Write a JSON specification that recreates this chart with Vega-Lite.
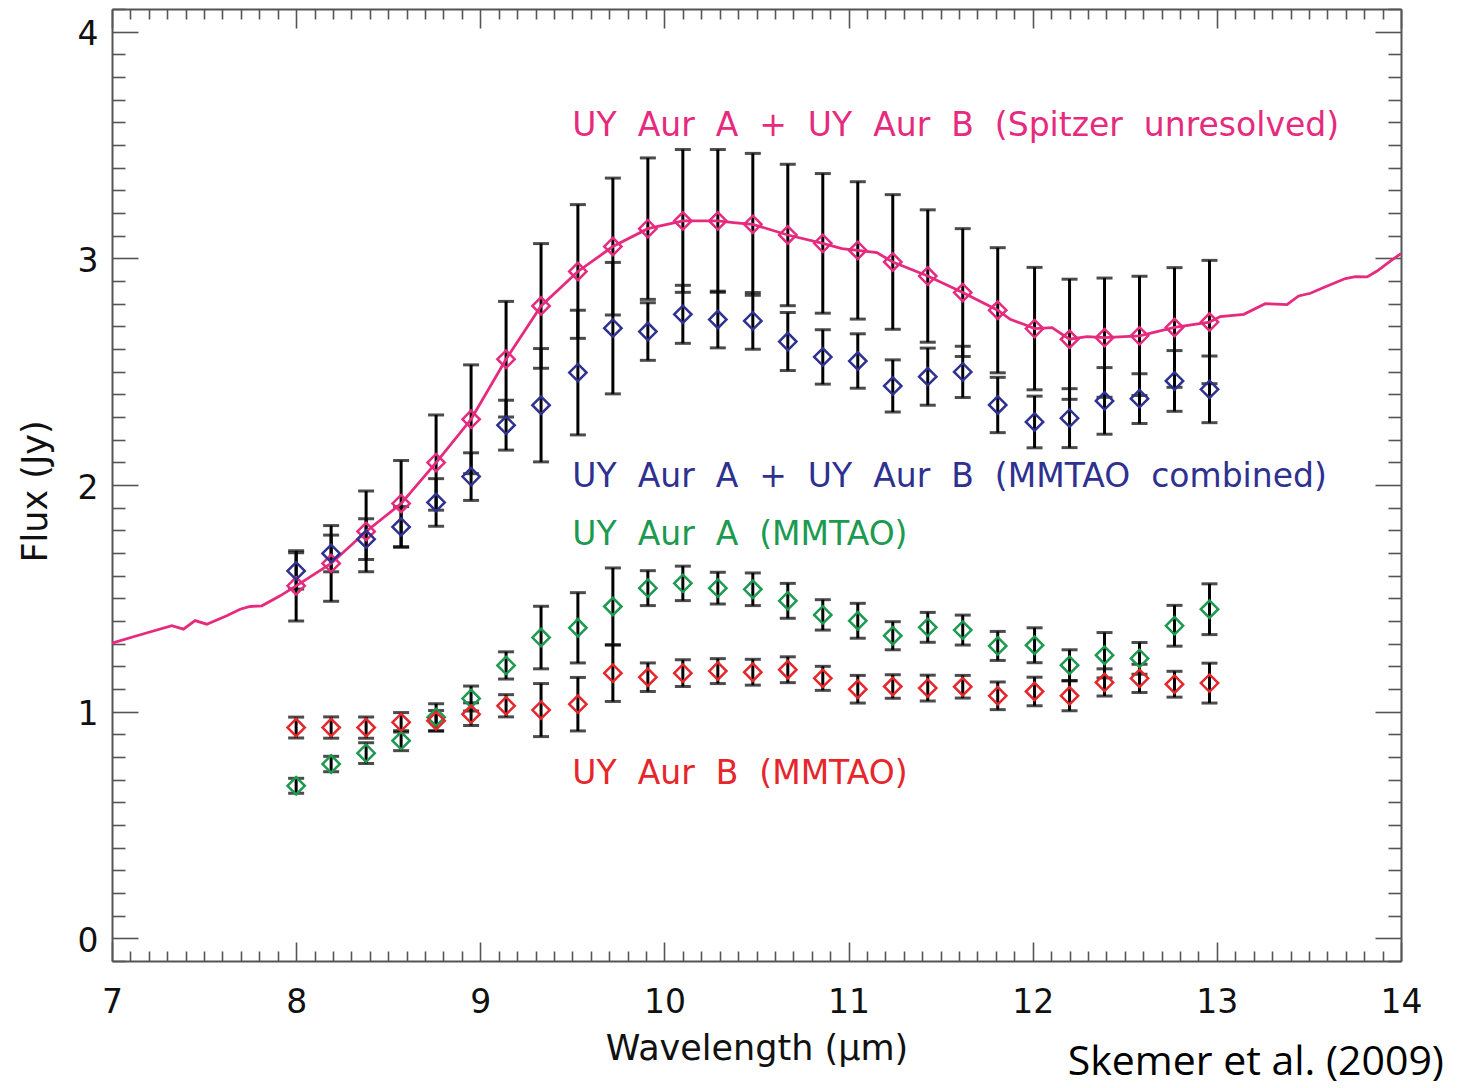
{
  "$schema": "https://vega.github.io/schema/vega-lite/v6.json",
  "width": 1289,
  "height": 952,
  "autosize": {"type": "none"},
  "padding": {"left": 112, "top": 9, "right": 56, "bottom": 127},
  "background": "white",
  "config": {
    "view": {"stroke": null},
    "axis": {
      "grid": false,
      "domainColor": "#555555",
      "domainWidth": 2,
      "tickColor": "#555555",
      "tickWidth": 1.6,
      "labelFont": "DejaVu Sans",
      "labelFontSize": 33,
      "labelColor": "#111111",
      "labelFlush": false,
      "labelOverlap": false,
      "labelBound": false,
      "titleFont": "DejaVu Sans",
      "titleFontSize": 35,
      "titleFontWeight": "normal",
      "titleColor": "#111111"
    }
  },
  "datasets": {
    "obs": [
      {"wl": 8.00, "series": "spitzer", "flux": 1.555, "lo": 1.400, "hi": 1.710},
      {"wl": 8.19, "series": "spitzer", "flux": 1.654, "lo": 1.487, "hi": 1.821},
      {"wl": 8.38, "series": "spitzer", "flux": 1.795, "lo": 1.617, "hi": 1.973},
      {"wl": 8.57, "series": "spitzer", "flux": 1.918, "lo": 1.728, "hi": 2.108},
      {"wl": 8.76, "series": "spitzer", "flux": 2.099, "lo": 1.889, "hi": 2.309},
      {"wl": 8.95, "series": "spitzer", "flux": 2.290, "lo": 2.050, "hi": 2.530},
      {"wl": 9.14, "series": "spitzer", "flux": 2.555, "lo": 2.300, "hi": 2.810},
      {"wl": 9.33, "series": "spitzer", "flux": 2.790, "lo": 2.515, "hi": 3.065},
      {"wl": 9.53, "series": "spitzer", "flux": 2.942, "lo": 2.647, "hi": 3.237},
      {"wl": 9.72, "series": "spitzer", "flux": 3.052, "lo": 2.750, "hi": 3.354},
      {"wl": 9.91, "series": "spitzer", "flux": 3.131, "lo": 2.819, "hi": 3.443},
      {"wl": 10.10, "series": "spitzer", "flux": 3.165, "lo": 2.850, "hi": 3.480},
      {"wl": 10.29, "series": "spitzer", "flux": 3.165, "lo": 2.850, "hi": 3.480},
      {"wl": 10.48, "series": "spitzer", "flux": 3.150, "lo": 2.837, "hi": 3.463},
      {"wl": 10.67, "series": "spitzer", "flux": 3.103, "lo": 2.791, "hi": 3.415},
      {"wl": 10.86, "series": "spitzer", "flux": 3.066, "lo": 2.758, "hi": 3.374},
      {"wl": 11.05, "series": "spitzer", "flux": 3.035, "lo": 2.732, "hi": 3.338},
      {"wl": 11.24, "series": "spitzer", "flux": 2.984, "lo": 2.687, "hi": 3.281},
      {"wl": 11.43, "series": "spitzer", "flux": 2.922, "lo": 2.630, "hi": 3.214},
      {"wl": 11.62, "series": "spitzer", "flux": 2.849, "lo": 2.567, "hi": 3.131},
      {"wl": 11.81, "series": "spitzer", "flux": 2.771, "lo": 2.495, "hi": 3.047},
      {"wl": 12.01, "series": "spitzer", "flux": 2.690, "lo": 2.420, "hi": 2.960},
      {"wl": 12.20, "series": "spitzer", "flux": 2.643, "lo": 2.378, "hi": 2.908},
      {"wl": 12.39, "series": "spitzer", "flux": 2.650, "lo": 2.387, "hi": 2.913},
      {"wl": 12.58, "series": "spitzer", "flux": 2.658, "lo": 2.395, "hi": 2.921},
      {"wl": 12.77, "series": "spitzer", "flux": 2.695, "lo": 2.431, "hi": 2.959},
      {"wl": 12.96, "series": "spitzer", "flux": 2.719, "lo": 2.447, "hi": 2.991},

      {"wl": 8.00, "series": "combined", "flux": 1.621, "lo": 1.541, "hi": 1.701},
      {"wl": 8.19, "series": "combined", "flux": 1.698, "lo": 1.617, "hi": 1.779},
      {"wl": 8.38, "series": "combined", "flux": 1.761, "lo": 1.671, "hi": 1.851},
      {"wl": 8.57, "series": "combined", "flux": 1.815, "lo": 1.725, "hi": 1.905},
      {"wl": 8.76, "series": "combined", "flux": 1.923, "lo": 1.818, "hi": 2.028},
      {"wl": 8.95, "series": "combined", "flux": 2.037, "lo": 1.932, "hi": 2.142},
      {"wl": 9.14, "series": "combined", "flux": 2.264, "lo": 2.154, "hi": 2.374},
      {"wl": 9.33, "series": "combined", "flux": 2.352, "lo": 2.102, "hi": 2.602},
      {"wl": 9.53, "series": "combined", "flux": 2.496, "lo": 2.221, "hi": 2.771},
      {"wl": 9.72, "series": "combined", "flux": 2.692, "lo": 2.402, "hi": 2.982},
      {"wl": 9.91, "series": "combined", "flux": 2.677, "lo": 2.550, "hi": 2.804},
      {"wl": 10.10, "series": "combined", "flux": 2.753, "lo": 2.625, "hi": 2.881},
      {"wl": 10.29, "series": "combined", "flux": 2.730, "lo": 2.605, "hi": 2.855},
      {"wl": 10.48, "series": "combined", "flux": 2.724, "lo": 2.599, "hi": 2.849},
      {"wl": 10.67, "series": "combined", "flux": 2.633, "lo": 2.505, "hi": 2.761},
      {"wl": 10.86, "series": "combined", "flux": 2.565, "lo": 2.445, "hi": 2.685},
      {"wl": 11.05, "series": "combined", "flux": 2.547, "lo": 2.427, "hi": 2.667},
      {"wl": 11.24, "series": "combined", "flux": 2.437, "lo": 2.322, "hi": 2.552},
      {"wl": 11.43, "series": "combined", "flux": 2.478, "lo": 2.352, "hi": 2.604},
      {"wl": 11.62, "series": "combined", "flux": 2.499, "lo": 2.386, "hi": 2.612},
      {"wl": 11.81, "series": "combined", "flux": 2.353, "lo": 2.231, "hi": 2.475},
      {"wl": 12.01, "series": "combined", "flux": 2.278, "lo": 2.164, "hi": 2.392},
      {"wl": 12.20, "series": "combined", "flux": 2.295, "lo": 2.165, "hi": 2.425},
      {"wl": 12.39, "series": "combined", "flux": 2.371, "lo": 2.224, "hi": 2.518},
      {"wl": 12.58, "series": "combined", "flux": 2.381, "lo": 2.271, "hi": 2.491},
      {"wl": 12.77, "series": "combined", "flux": 2.459, "lo": 2.325, "hi": 2.593},
      {"wl": 12.96, "series": "combined", "flux": 2.422, "lo": 2.275, "hi": 2.569},

      {"wl": 8.00, "series": "a", "flux": 0.673, "lo": 0.640, "hi": 0.706},
      {"wl": 8.19, "series": "a", "flux": 0.769, "lo": 0.735, "hi": 0.803},
      {"wl": 8.38, "series": "a", "flux": 0.817, "lo": 0.771, "hi": 0.863},
      {"wl": 8.57, "series": "a", "flux": 0.872, "lo": 0.828, "hi": 0.916},
      {"wl": 8.76, "series": "a", "flux": 0.975, "lo": 0.915, "hi": 1.035},
      {"wl": 8.95, "series": "a", "flux": 1.058, "lo": 1.003, "hi": 1.113},
      {"wl": 9.14, "series": "a", "flux": 1.204, "lo": 1.144, "hi": 1.264},
      {"wl": 9.33, "series": "a", "flux": 1.327, "lo": 1.189, "hi": 1.465},
      {"wl": 9.53, "series": "a", "flux": 1.370, "lo": 1.215, "hi": 1.525},
      {"wl": 9.72, "series": "a", "flux": 1.464, "lo": 1.294, "hi": 1.634},
      {"wl": 9.91, "series": "a", "flux": 1.545, "lo": 1.468, "hi": 1.622},
      {"wl": 10.10, "series": "a", "flux": 1.566, "lo": 1.490, "hi": 1.642},
      {"wl": 10.29, "series": "a", "flux": 1.545, "lo": 1.475, "hi": 1.615},
      {"wl": 10.48, "series": "a", "flux": 1.540, "lo": 1.468, "hi": 1.612},
      {"wl": 10.67, "series": "a", "flux": 1.489, "lo": 1.412, "hi": 1.566},
      {"wl": 10.86, "series": "a", "flux": 1.427, "lo": 1.360, "hi": 1.494},
      {"wl": 11.05, "series": "a", "flux": 1.401, "lo": 1.324, "hi": 1.478},
      {"wl": 11.24, "series": "a", "flux": 1.335, "lo": 1.273, "hi": 1.397},
      {"wl": 11.43, "series": "a", "flux": 1.372, "lo": 1.306, "hi": 1.438},
      {"wl": 11.62, "series": "a", "flux": 1.360, "lo": 1.294, "hi": 1.426},
      {"wl": 11.81, "series": "a", "flux": 1.290, "lo": 1.226, "hi": 1.354},
      {"wl": 12.01, "series": "a", "flux": 1.293, "lo": 1.216, "hi": 1.370},
      {"wl": 12.20, "series": "a", "flux": 1.205, "lo": 1.137, "hi": 1.273},
      {"wl": 12.39, "series": "a", "flux": 1.249, "lo": 1.149, "hi": 1.349},
      {"wl": 12.58, "series": "a", "flux": 1.235, "lo": 1.165, "hi": 1.305},
      {"wl": 12.77, "series": "a", "flux": 1.379, "lo": 1.289, "hi": 1.469},
      {"wl": 12.96, "series": "a", "flux": 1.452, "lo": 1.340, "hi": 1.564},

      {"wl": 8.00, "series": "b", "flux": 0.930, "lo": 0.884, "hi": 0.976},
      {"wl": 8.19, "series": "b", "flux": 0.930, "lo": 0.883, "hi": 0.977},
      {"wl": 8.38, "series": "b", "flux": 0.930, "lo": 0.883, "hi": 0.977},
      {"wl": 8.57, "series": "b", "flux": 0.953, "lo": 0.910, "hi": 0.996},
      {"wl": 8.76, "series": "b", "flux": 0.960, "lo": 0.915, "hi": 1.005},
      {"wl": 8.95, "series": "b", "flux": 0.989, "lo": 0.939, "hi": 1.039},
      {"wl": 9.14, "series": "b", "flux": 1.026, "lo": 0.977, "hi": 1.075},
      {"wl": 9.33, "series": "b", "flux": 1.007, "lo": 0.890, "hi": 1.124},
      {"wl": 9.53, "series": "b", "flux": 1.033, "lo": 0.915, "hi": 1.151},
      {"wl": 9.72, "series": "b", "flux": 1.170, "lo": 1.045, "hi": 1.295},
      {"wl": 9.91, "series": "b", "flux": 1.152, "lo": 1.089, "hi": 1.215},
      {"wl": 10.10, "series": "b", "flux": 1.170, "lo": 1.111, "hi": 1.229},
      {"wl": 10.29, "series": "b", "flux": 1.179, "lo": 1.124, "hi": 1.234},
      {"wl": 10.48, "series": "b", "flux": 1.174, "lo": 1.117, "hi": 1.231},
      {"wl": 10.67, "series": "b", "flux": 1.185, "lo": 1.128, "hi": 1.242},
      {"wl": 10.86, "series": "b", "flux": 1.147, "lo": 1.094, "hi": 1.200},
      {"wl": 11.05, "series": "b", "flux": 1.099, "lo": 1.038, "hi": 1.160},
      {"wl": 11.24, "series": "b", "flux": 1.111, "lo": 1.059, "hi": 1.163},
      {"wl": 11.43, "series": "b", "flux": 1.104, "lo": 1.047, "hi": 1.161},
      {"wl": 11.62, "series": "b", "flux": 1.110, "lo": 1.060, "hi": 1.160},
      {"wl": 11.81, "series": "b", "flux": 1.070, "lo": 1.009, "hi": 1.131},
      {"wl": 12.01, "series": "b", "flux": 1.089, "lo": 1.026, "hi": 1.152},
      {"wl": 12.20, "series": "b", "flux": 1.070, "lo": 1.004, "hi": 1.136},
      {"wl": 12.39, "series": "b", "flux": 1.129, "lo": 1.069, "hi": 1.189},
      {"wl": 12.58, "series": "b", "flux": 1.147, "lo": 1.085, "hi": 1.209},
      {"wl": 12.77, "series": "b", "flux": 1.121, "lo": 1.064, "hi": 1.178},
      {"wl": 12.96, "series": "b", "flux": 1.126, "lo": 1.038, "hi": 1.214}
    ],
    "spectrum": [
      {"wl": 7.000, "flux": 1.302}, {"wl": 7.135, "flux": 1.335}, {"wl": 7.325, "flux": 1.379},
      {"wl": 7.388, "flux": 1.364}, {"wl": 7.451, "flux": 1.402}, {"wl": 7.515, "flux": 1.386},
      {"wl": 7.623, "flux": 1.423}, {"wl": 7.696, "flux": 1.452}, {"wl": 7.750, "flux": 1.464},
      {"wl": 7.814, "flux": 1.467}, {"wl": 7.913, "flux": 1.511}, {"wl": 8.000, "flux": 1.555},
      {"wl": 8.19, "flux": 1.654}, {"wl": 8.38, "flux": 1.795}, {"wl": 8.57, "flux": 1.918},
      {"wl": 8.76, "flux": 2.099}, {"wl": 8.95, "flux": 2.290}, {"wl": 9.14, "flux": 2.555},
      {"wl": 9.33, "flux": 2.790}, {"wl": 9.53, "flux": 2.942}, {"wl": 9.72, "flux": 3.052},
      {"wl": 9.91, "flux": 3.131}, {"wl": 10.10, "flux": 3.165}, {"wl": 10.29, "flux": 3.165},
      {"wl": 10.375, "flux": 3.158}, {"wl": 10.48, "flux": 3.150}, {"wl": 10.67, "flux": 3.103},
      {"wl": 10.86, "flux": 3.066}, {"wl": 10.964, "flux": 3.043}, {"wl": 11.05, "flux": 3.035},
      {"wl": 11.154, "flux": 3.025}, {"wl": 11.24, "flux": 2.984}, {"wl": 11.43, "flux": 2.922},
      {"wl": 11.62, "flux": 2.849}, {"wl": 11.81, "flux": 2.771}, {"wl": 11.878, "flux": 2.731},
      {"wl": 11.951, "flux": 2.709}, {"wl": 12.01, "flux": 2.690}, {"wl": 12.105, "flux": 2.694},
      {"wl": 12.20, "flux": 2.643}, {"wl": 12.295, "flux": 2.655}, {"wl": 12.39, "flux": 2.650},
      {"wl": 12.58, "flux": 2.658}, {"wl": 12.77, "flux": 2.695}, {"wl": 12.96, "flux": 2.719},
      {"wl": 13.019, "flux": 2.743}, {"wl": 13.146, "flux": 2.753}, {"wl": 13.263, "flux": 2.800},
      {"wl": 13.381, "flux": 2.796}, {"wl": 13.444, "flux": 2.834}, {"wl": 13.508, "flux": 2.846},
      {"wl": 13.580, "flux": 2.871}, {"wl": 13.698, "flux": 2.911}, {"wl": 13.752, "flux": 2.919},
      {"wl": 13.816, "flux": 2.918}, {"wl": 13.870, "flux": 2.944}, {"wl": 13.942, "flux": 2.988},
      {"wl": 14.000, "flux": 3.021}
    ],
    "labels": [
      {"wl": 9.5, "flux": 3.538, "series": "spitzer", "text": "UY\u00a0 Aur\u00a0 A\u00a0 +\u00a0 UY\u00a0 Aur\u00a0 B\u00a0 (Spitzer\u00a0 unresolved)"},
      {"wl": 9.5, "flux": 1.990, "series": "combined", "text": "UY\u00a0 Aur\u00a0 A\u00a0 +\u00a0 UY\u00a0 Aur\u00a0 B\u00a0 (MMTAO\u00a0 combined)"},
      {"wl": 9.5, "flux": 1.735, "series": "a", "text": "UY\u00a0 Aur\u00a0 A\u00a0 (MMTAO)"},
      {"wl": 9.5, "flux": 0.681, "series": "b", "text": "UY\u00a0 Aur\u00a0 B\u00a0 (MMTAO)"}
    ],
    "credit": [
      {"wl": 12.19, "flux": -0.603, "text": "Skemer et al. (2009)"}
    ]
  },
  "layer": [
    {
      "data": {"name": "obs"},
      "mark": {"type": "rule", "color": "black", "strokeWidth": 3},
      "encoding": {
        "x": {
          "field": "wl", "type": "quantitative",
          "scale": {"domain": [7, 14], "nice": false, "zero": false},
          "axis": {
            "orient": "bottom",
            "title": "Wavelength (µm)",
            "tickCount": 70,
            "labelExpr": "abs(datum.value - round(datum.value)) < 0.001 ? format(datum.value, 'd') : ''",
            "tickSize": {"condition": {"test": "abs(datum.value - round(datum.value)) < 0.001", "value": -19}, "value": -10},
            "labelPadding": 44,
            "titlePadding": 3
          }
        },
        "y": {
          "field": "lo", "type": "quantitative",
          "scale": {"domain": [-0.1, 4.1], "nice": false, "zero": false},
          "axis": {
            "orient": "left",
            "title": "Flux (Jy)",
            "titleY": 482,
            "tickCount": 42,
            "labelExpr": "abs(datum.value - round(datum.value)) < 0.001 ? format(datum.value, 'd') : ''",
            "tickSize": {"condition": {"test": "abs(datum.value - round(datum.value)) < 0.001", "value": -26}, "value": -13},
            "labelPadding": 40,
            "labelOffset": 3,
            "titlePadding": 24
          }
        },
        "y2": {"field": "hi"}
      }
    },
    {
      "data": {"name": "obs"},
      "mark": {"type": "tick", "orient": "horizontal", "color": "black", "size": 16, "thickness": 3},
      "encoding": {
        "x": {
          "field": "wl", "type": "quantitative",
          "scale": {"domain": [7, 14], "nice": false, "zero": false},
          "axis": {
            "orient": "top", "title": null, "labels": false, "tickCount": 70,
            "tickSize": {"condition": {"test": "abs(datum.value - round(datum.value)) < 0.001", "value": -19}, "value": -10}
          }
        },
        "y": {
          "field": "lo", "type": "quantitative",
          "scale": {"domain": [-0.1, 4.1], "nice": false, "zero": false},
          "axis": {
            "orient": "right", "title": null, "labels": false, "tickCount": 42,
            "tickSize": {"condition": {"test": "abs(datum.value - round(datum.value)) < 0.001", "value": -26}, "value": -13}
          }
        }
      }
    },
    {
      "data": {"name": "obs"},
      "mark": {"type": "tick", "orient": "horizontal", "color": "black", "size": 16, "thickness": 3},
      "encoding": {
        "x": {"field": "wl", "type": "quantitative", "scale": {"domain": [7, 14], "nice": false, "zero": false}, "axis": null},
        "y": {"field": "hi", "type": "quantitative", "scale": {"domain": [-0.1, 4.1], "nice": false, "zero": false}, "axis": null}
      }
    },
    {
      "data": {"name": "spectrum"},
      "mark": {"type": "line", "color": "#e62a7e", "strokeWidth": 2.8},
      "encoding": {
        "x": {"field": "wl", "type": "quantitative", "scale": {"domain": [7, 14], "nice": false, "zero": false}, "axis": null},
        "y": {"field": "flux", "type": "quantitative", "scale": {"domain": [-0.1, 4.1], "nice": false, "zero": false}, "axis": null}
      }
    },
    {
      "data": {"name": "obs"},
      "mark": {"type": "point", "shape": "diamond", "filled": false, "size": 300, "strokeWidth": 2.5, "opacity": 1},
      "encoding": {
        "x": {"field": "wl", "type": "quantitative", "scale": {"domain": [7, 14], "nice": false, "zero": false}, "axis": null},
        "y": {"field": "flux", "type": "quantitative", "scale": {"domain": [-0.1, 4.1], "nice": false, "zero": false}, "axis": null},
        "color": {
          "field": "series", "type": "nominal", "legend": null,
          "scale": {"domain": ["spitzer", "combined", "a", "b"], "range": ["#e62a7e", "#2e3190", "#1b9a50", "#e6262b"]}
        }
      }
    },
    {
      "data": {"name": "labels"},
      "mark": {"type": "text", "align": "left", "baseline": "alphabetic", "font": "DejaVu Sans", "fontSize": 33},
      "encoding": {
        "x": {"field": "wl", "type": "quantitative", "scale": {"domain": [7, 14], "nice": false, "zero": false}, "axis": null},
        "y": {"field": "flux", "type": "quantitative", "scale": {"domain": [-0.1, 4.1], "nice": false, "zero": false}, "axis": null},
        "text": {"field": "text"},
        "color": {
          "field": "series", "type": "nominal", "legend": null,
          "scale": {"domain": ["spitzer", "combined", "a", "b"], "range": ["#e62a7e", "#2e3190", "#1b9a50", "#e6262b"]}
        }
      }
    },
    {
      "data": {"name": "credit"},
      "mark": {"type": "text", "align": "left", "baseline": "alphabetic", "font": "Open Sans", "fontSize": 41, "color": "black", "clip": false},
      "encoding": {
        "x": {"field": "wl", "type": "quantitative", "scale": {"domain": [7, 14], "nice": false, "zero": false}, "axis": null},
        "y": {"field": "flux", "type": "quantitative", "scale": {"domain": [-0.1, 4.1], "nice": false, "zero": false}, "axis": null},
        "text": {"field": "text"}
      }
    }
  ],
  "resolve": {"axis": {"x": "independent", "y": "independent"}}
}
